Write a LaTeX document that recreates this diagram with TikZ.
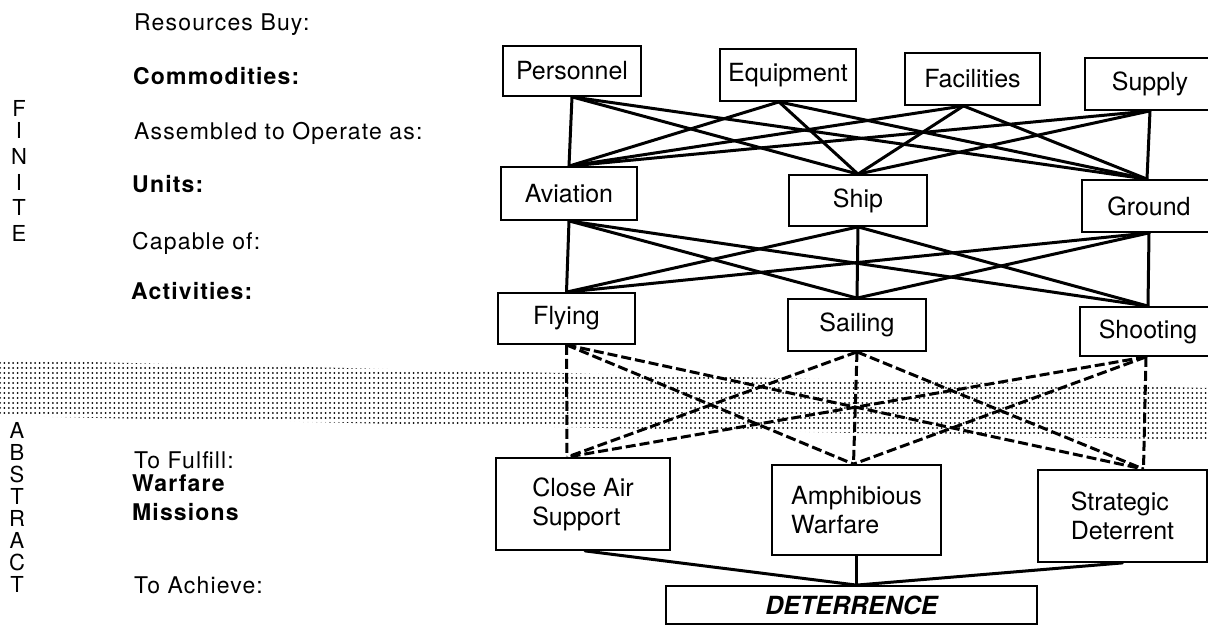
\documentclass[tikz,border=0pt]{standalone}
\usepackage{fontspec}
\setmainfont{TeX Gyre Heros}
\newfontfamily\lblfont{TeX Gyre Heros}[LetterSpace=5]
\usetikzlibrary{patterns}
\pgfdeclarepatternformonly{halftone}{\pgfpoint{-2.2pt}{-2.5pt}}{\pgfpoint{2.2pt}{2.5pt}}{\pgfpoint{4.4pt}{5pt}}{\pgfpathcircle{\pgfpointorigin}{1pt}\pgfusepath{fill}}
\tikzset{
  box/.style={draw, line width=1.8pt, inner sep=0pt, fill=white, font=\fontsize{25}{29}\selectfont},
  mbox/.style={box, align=left},
  lbl/.style={anchor=base west, inner sep=0pt, font=\fontsize{23}{27}\lblfont},
  blbl/.style={anchor=base west, inner sep=0pt, font=\fontsize{23}{27}\lblfont\bfseries},
  vlet/.style={anchor=base, inner sep=0pt, font=\fontsize{22}{24}\selectfont},
  link/.style={line width=3pt, line cap=round},
  dlink/.style={line width=3pt, dash pattern=on 10pt off 4pt},
}
\begin{document}
\begin{tikzpicture}[x=1pt,y=-1pt]
\useasboundingbox (0,0) rectangle (1208,628);
\fill[white] (0,0) rectangle (1208,628);
% halftone band between finite and abstract
\fill[pattern=halftone, pattern color=black] (0,360) -- (1208,388) -- (1208,440) -- (0,416) -- cycle;

% left column labels
\node[lbl]  (l1) at (134,31)  {Resources Buy:};
\node[blbl] (l2) at (133,85)  {Commodities:};
\node[lbl]  (l3) at (134,140) {Assembled to Operate as:};
\node[blbl] (l4) at (132,193) {Units:};
\node[lbl]  (l5) at (132,250) {Capable of:};
\node[blbl] (l6) at (131,300) {Activities:};
\node[lbl]  (l7) at (134,468) {To Fulfill:};
\node[blbl] (l8) at (132,491) {Warfare};
\node[blbl] (l9) at (132,520) {Missions};
\node[lbl]  (l10) at (134,593) {To Achieve:};

% vertical words
\foreach \l/\y [count=\i] in {F/117,I/139,N/165,I/191,T/216,E/242}
  \node[vlet] (fin\i) at (19,\y) {\l};
\foreach \l/\y [count=\i] in {A/438,B/460,S/482,T/504,R/526,A/548,C/570,T/592}
  \node[vlet] (abs\i) at (17,\y) {\l};

% commodities
\node[box, minimum width=138pt, minimum height=50pt] (per) at (572,71) {Personnel};
\node[box, minimum width=136pt, minimum height=52pt] (equ) at (788,75) {Equipment};
\node[box, minimum width=135pt, minimum height=52pt] (fac) at (972.5,79) {Facilities};
\node[box, minimum width=130pt, minimum height=52pt] (sup) at (1150,84) {Supply};
% units
\node[box, minimum width=136pt, minimum height=53pt] (avi) at (569,193.5) {Aviation};
\node[box, minimum width=138pt, minimum height=51pt] (shi) at (858,200.5) {Ship};
\node[box, minimum width=134pt, minimum height=52pt] (gro) at (1149,206) {Ground};
% activities
\node[box, minimum width=137pt, minimum height=51pt] (fly) at (566.5,318.5) {Flying};
\node[box, minimum width=138pt, minimum height=52pt] (sai) at (857,325) {Sailing};
\node[box, minimum width=136pt, minimum height=49pt] (sho) at (1148,331.5) {Shooting};
% missions
\node[mbox, minimum width=174pt, minimum height=92pt] (cas) at (583,504) {Close Air\\Support};
\node[mbox, minimum width=169pt, minimum height=90pt] (amp) at (856.5,510) {Amphibious\\Warfare};
\node[mbox, minimum width=169pt, minimum height=92pt] (str) at (1122.5,516) {Strategic\\Deterrent};
% goal
\node[box, minimum width=371pt, minimum height=38pt, font=\fontsize{25}{29}\selectfont\bfseries\itshape] (det) at (851.5,605) {DETERRENCE};

% ports
\coordinate (perB) at (per.south);
\coordinate (equB) at ([xshift=-9pt]equ.south);
\coordinate (facB) at ([xshift=-9pt]fac.south);
\coordinate (supB) at (sup.south);
\coordinate (aviT) at (avi.north);
\coordinate (shiT) at (shi.north);
\coordinate (groT) at ([xshift=-2pt]gro.north);
\coordinate (aviB) at (avi.south);
\coordinate (shiB) at (shi.south);
\coordinate (groB) at (gro.south);
\coordinate (flyT) at (fly.north);
\coordinate (saiT) at (sai.north);
\coordinate (shoT) at (sho.north);
\coordinate (flyB) at (fly.south);
\coordinate (saiB) at (sai.south);
\coordinate (shoB) at ([xshift=-2pt]sho.south);
\coordinate (casT) at ([xshift=-16pt]cas.north);
\coordinate (ampT) at ([xshift=-3pt]amp.north);
\coordinate (strT) at ([xshift=21pt]str.north);
\coordinate (casB) at ([xshift=2pt]cas.south);
\coordinate (ampB) at (amp.south);
\coordinate (strB) at (str.south);
\coordinate (detT) at ([xshift=5pt]det.north);

% commodities -> units
\foreach \s in {perB,equB,facB,supB}
  \foreach \t in {aviT,shiT,groT}
    \draw[link] (\s) -- (\t);
% units -> activities
\foreach \s in {aviB,shiB,groB}
  \foreach \t in {flyT,saiT,shoT}
    \draw[link] (\s) -- (\t);
% activities -> missions (dashed)
\foreach \s in {flyB,saiB,shoB}
  \foreach \t in {casT,ampT,strT}
    \draw[dlink] (\s) -- (\t);
% missions -> deterrence
\foreach \s in {casB,ampB,strB}
  \draw[link] (\s) -- (detT);
\end{tikzpicture}
\end{document}
